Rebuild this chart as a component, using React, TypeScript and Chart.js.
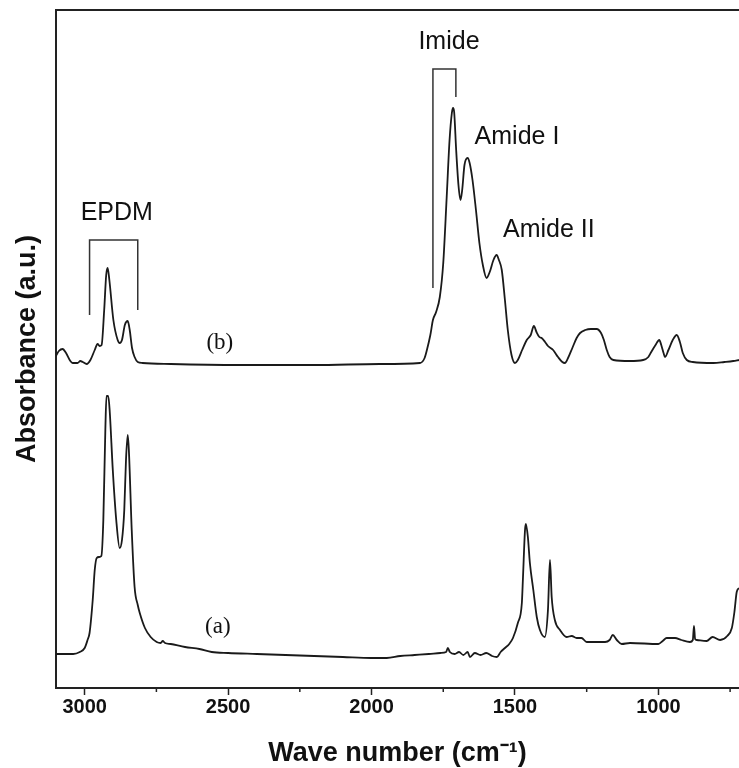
import React, { useEffect, useRef } from "react";
import { Chart, registerables } from "chart.js";

Chart.register(...registerables);

// Spectrum (a) – wave number (cm-1) and absorbance (a.u.)
const aWave = [
  3100, 3040, 3017, 3000, 2990, 2983, 2972, 2965, 2958, 2950, 2942, 2935, 2928, 2924, 2918, 2913, 2902, 2890, 2878, 2870,
  2862, 2856, 2850, 2846, 2836, 2826, 2815, 2808, 2790, 2770, 2749, 2735, 2728, 2720, 2700, 2650, 2600, 2557, 2500, 2400,
  2300, 2200, 2100, 2000, 1947, 1900, 1850, 1800, 1760, 1740, 1734, 1727, 1710, 1695, 1680, 1665, 1657, 1640, 1620, 1600,
  1580, 1563, 1550, 1535, 1520, 1507, 1490, 1476, 1472, 1465, 1462, 1455, 1448, 1436, 1424, 1413, 1396, 1385, 1378, 1372,
  1361, 1343, 1320, 1302, 1285, 1268, 1250, 1186, 1170, 1159, 1145, 1128, 1099, 1000, 985, 971, 942, 920, 890, 880,
  876, 872, 866, 832, 811, 785, 760, 744, 735, 727, 719,
];
const aAbs = [
  0.34, 0.34, 0.36, 0.4, 0.48, 0.55, 0.88, 1.18, 1.3, 1.31, 1.32, 1.68, 2.58, 2.92, 2.92, 2.78, 2.18, 1.68, 1.4, 1.48,
  1.78, 2.28, 2.53, 2.38, 1.58, 1.01, 0.83, 0.75, 0.6, 0.51, 0.46, 0.45, 0.47, 0.45, 0.44, 0.41, 0.39, 0.36, 0.35, 0.34,
  0.33, 0.32, 0.31, 0.3, 0.3, 0.32, 0.33, 0.34, 0.35, 0.36, 0.4, 0.36, 0.34, 0.36, 0.33, 0.36, 0.31, 0.35, 0.33, 0.35,
  0.32, 0.31, 0.36, 0.4, 0.44, 0.5, 0.65, 0.85, 1.11, 1.58, 1.64, 1.51, 1.25, 0.98, 0.71, 0.58, 0.51, 0.78, 1.28, 0.91,
  0.68, 0.58, 0.51, 0.52, 0.5, 0.5, 0.46, 0.46, 0.48, 0.53, 0.48, 0.44, 0.45, 0.44, 0.47, 0.5, 0.5, 0.48, 0.46, 0.48,
  0.62, 0.49, 0.48, 0.47, 0.51, 0.48, 0.52, 0.6, 0.76, 0.96, 1.0,
];

// Spectrum (b)
const bWave = [
  3100, 3090, 3077, 3065, 3050, 3042, 3025, 3015, 3007, 2993, 2980, 2965, 2955, 2948, 2941, 2932, 2925, 2920, 2914, 2900,
  2885, 2878, 2870, 2860, 2850, 2843, 2835, 2826, 2815, 2798, 2700, 2460, 2200, 1971, 1831, 1815, 1807, 1795, 1786, 1775,
  1762, 1750, 1738, 1728, 1720, 1716, 1712, 1705, 1697, 1690, 1684, 1676, 1665, 1658, 1648, 1636, 1624, 1612, 1599, 1588,
  1575, 1564, 1556, 1546, 1535, 1525, 1512, 1500, 1490, 1475, 1459, 1445, 1434, 1425, 1415, 1407, 1395, 1385, 1367, 1350,
  1335, 1326, 1315, 1300, 1285, 1273, 1255, 1235, 1215, 1200, 1190, 1180, 1170, 1157, 1100, 1053, 1035, 1025, 1010, 997,
  990, 982, 977, 965, 950, 936, 925, 915, 901, 880, 808, 770, 739, 719,
];
const bAbs = [
  3.32, 3.37, 3.39, 3.35, 3.27, 3.25, 3.25, 3.27, 3.26, 3.24, 3.28, 3.38, 3.44, 3.42, 3.43, 3.78, 4.13, 4.2, 4.08, 3.68,
  3.48, 3.45, 3.48, 3.63, 3.67, 3.58, 3.4, 3.31, 3.26, 3.25, 3.24, 3.23, 3.23, 3.24, 3.25, 3.3, 3.38, 3.53, 3.68, 3.76,
  3.91, 4.25, 4.91, 5.48, 5.75, 5.8, 5.76, 5.38, 5.03, 4.88, 4.98, 5.23, 5.3, 5.25, 5.08, 4.78, 4.45, 4.23, 4.1, 4.16,
  4.28, 4.33, 4.28, 4.18, 3.88, 3.58, 3.33, 3.25, 3.28, 3.38, 3.48, 3.53, 3.62, 3.56, 3.51, 3.5, 3.46, 3.42, 3.38, 3.31,
  3.26, 3.25, 3.3, 3.4, 3.5, 3.55, 3.58, 3.59, 3.59, 3.55, 3.48, 3.38, 3.31, 3.28, 3.27, 3.28, 3.31, 3.36, 3.43, 3.48,
  3.43, 3.35, 3.31, 3.38, 3.48, 3.53, 3.46, 3.35, 3.28, 3.26, 3.25, 3.26, 3.27, 3.28,
];

// Axis ticks (major every 500, minor every 250)
const xTicks = [750, 1000, 1250, 1500, 1750, 2000, 2250, 2500, 2750, 3000];
const xMajorLabels = [1000, 1500, 2000, 2500, 3000];

// Text annotations (data coordinates)
const labelTexts = ["EPDM", "Imide", "Amide I", "Amide II", "(b)", "(a)"];
const labelWave = [2888, 1730, 1493, 1382, 2529, 2536];
const labelAbs = [4.75, 6.46, 5.51, 4.58, 3.45, 0.61];

// Brackets: [left wave, right wave, top abs, left bottom abs, right bottom abs]
const bracketLeft = [2983, 1786];
const bracketRight = [2815, 1706];
const bracketTop = [4.48, 6.19];
const bracketLeftBottom = [3.73, 4.0];
const bracketRightBottom = [3.78, 5.91];

const SANS = "'Liberation Sans', Arial, Helvetica, sans-serif";
const SERIF = "'Liberation Serif', 'Times New Roman', serif";

const overlayPlugin = {
  id: "overlay",
  afterDatasetsDraw(chart: any) {
    const { ctx, chartArea } = chart;
    const xs = chart.scales.x;
    const ys = chart.scales.y;
    ctx.save();
    // top frame line
    ctx.strokeStyle = "#222";
    ctx.lineWidth = 2;
    ctx.beginPath();
    ctx.moveTo(chartArea.left - 1, chartArea.top);
    ctx.lineTo(chartArea.right, chartArea.top);
    ctx.stroke();
    // minor ticks
    ctx.lineWidth = 1.5;
    xTicks.forEach((v) => {
      if (v % 500 !== 0) {
        const px = xs.getPixelForValue(v);
        ctx.beginPath();
        ctx.moveTo(px, chartArea.bottom);
        ctx.lineTo(px, chartArea.bottom + 4);
        ctx.stroke();
      }
    });
    // brackets
    ctx.strokeStyle = "#333";
    ctx.lineWidth = 1.5;
    bracketLeft.forEach((l, i) => {
      const xl = xs.getPixelForValue(l);
      const xr = xs.getPixelForValue(bracketRight[i]);
      const yt = ys.getPixelForValue(bracketTop[i]);
      const ylb = ys.getPixelForValue(bracketLeftBottom[i]);
      const yrb = ys.getPixelForValue(bracketRightBottom[i]);
      ctx.beginPath();
      ctx.moveTo(xl, ylb);
      ctx.lineTo(xl, yt);
      ctx.lineTo(xr, yt);
      ctx.lineTo(xr, yrb);
      ctx.stroke();
    });
    // labels
    ctx.fillStyle = "#111";
    ctx.textAlign = "center";
    ctx.textBaseline = "middle";
    labelTexts.forEach((t, i) => {
      const serif = t.startsWith("(");
      ctx.font = serif ? `23px ${SERIF}` : `25px ${SANS}`;
      ctx.fillText(t, xs.getPixelForValue(labelWave[i]), ys.getPixelForValue(labelAbs[i]));
    });
    ctx.restore();
  },
};

export default function App() {
  const canvasRef = useRef<HTMLCanvasElement | null>(null);

  useEffect(() => {
    const canvas = canvasRef.current;
    if (!canvas) return;
    const toPoints = (w: number[], a: number[]) => w.map((x, i) => ({ x, y: a[i] }));
    const chart = new Chart(canvas, {
      type: "line",
      data: {
        datasets: [
          {
            label: "(a)",
            data: toPoints(aWave, aAbs),
            borderColor: "#1a1a1a",
            borderWidth: 1.8,
            pointRadius: 0,
            cubicInterpolationMode: "monotone",
          },
          {
            label: "(b)",
            data: toPoints(bWave, bAbs),
            borderColor: "#1a1a1a",
            borderWidth: 1.8,
            pointRadius: 0,
            cubicInterpolationMode: "monotone",
          },
        ],
      },
      options: {
        responsive: false,
        animation: false,
        devicePixelRatio: 1,
        layout: { padding: { top: 10, left: 0, right: 0, bottom: 0 } },
        plugins: {
          legend: { display: false },
          tooltip: { enabled: false },
        },
        scales: {
          x: {
            type: "linear",
            reverse: true,
            min: 719,
            max: 3100,
            afterBuildTicks: (scale: any) => {
              scale.ticks = xTicks.map((v) => ({ value: v }));
            },
            afterFit: (scale: any) => {
              scale.height = 80;
            },
            border: { display: true, color: "#222", width: 2 },
            grid: {
              drawOnChartArea: false,
              drawTicks: true,
              tickLength: 7,
              tickWidth: 1.5,
              tickColor: (c: any) =>
                c.tick && xMajorLabels.includes(c.tick.value) ? "#222" : "rgba(0,0,0,0)",
            },
            ticks: {
              autoSkip: false,
              maxRotation: 0,
              padding: 2,
              color: "#111",
              font: { family: SANS, size: 20, weight: "bold", lineHeight: 1 },
              callback: (v: any) => (xMajorLabels.includes(Number(v)) ? String(v) : ""),
            },
            title: {
              display: true,
              text: "Wave number (cm⁻¹)",
              color: "#111",
              font: { family: SANS, size: 27, weight: "bold", lineHeight: 1.1 },
              padding: { top: 0, bottom: 0 },
            },
          },
          y: {
            min: 0,
            max: 6.78,
            afterFit: (scale: any) => {
              scale.width = 56;
            },
            border: { display: true, color: "#222", width: 2 },
            grid: { display: false, drawOnChartArea: false, drawTicks: false },
            ticks: { display: false },
            title: {
              display: true,
              text: "Absorbance (a.u.)",
              color: "#111",
              font: { family: SANS, size: 27, weight: "bold", lineHeight: 1.1 },
              padding: { top: 13, bottom: 0 },
            },
          },
        },
      },
      plugins: [overlayPlugin],
    } as any);
    return () => chart.destroy();
  }, []);

  return (
    <div style={{ position: "fixed", left: 0, top: 0, width: 739, height: 768, background: "#fff" }}>
      <canvas ref={canvasRef} width={739} height={768} style={{ display: "block" }} />
    </div>
  );
}
